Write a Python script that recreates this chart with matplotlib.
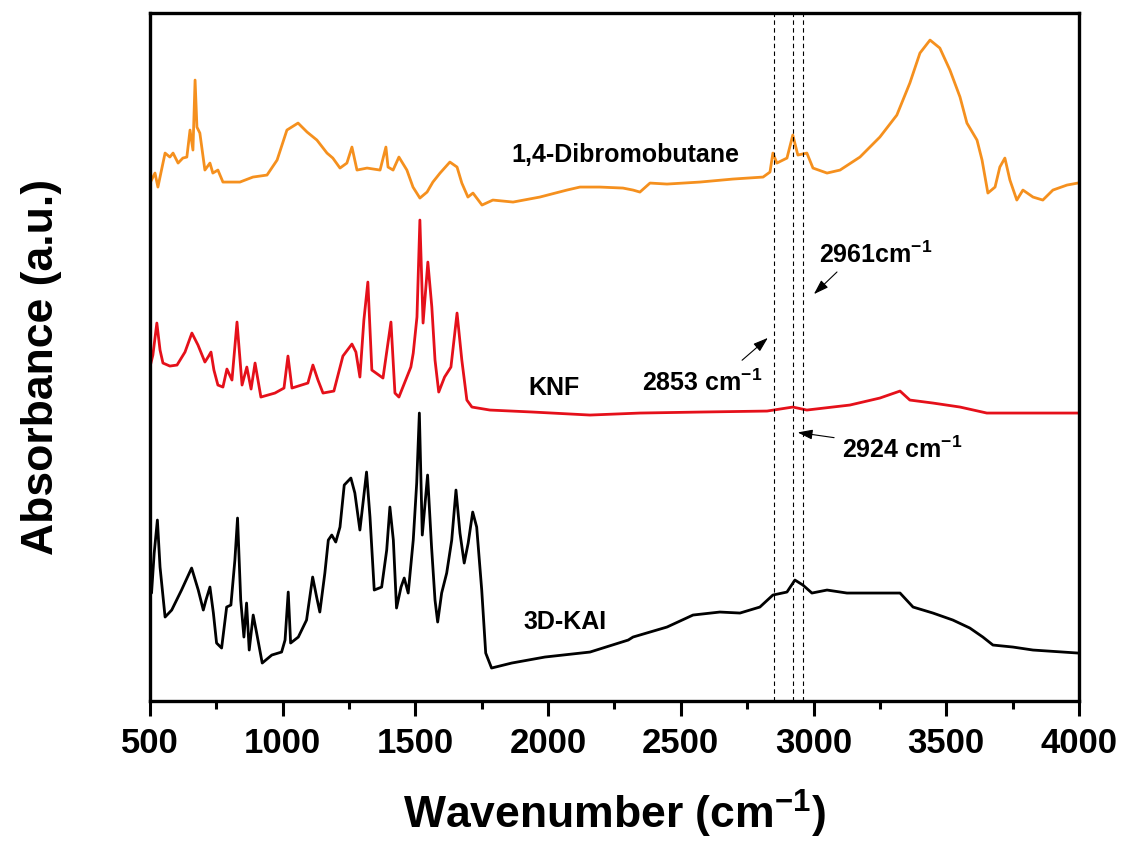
import matplotlib
matplotlib.use("Agg")
import matplotlib.pyplot as plt
from matplotlib.ticker import MultipleLocator

plt.rcParams["font.family"] = ["Liberation Sans", "DejaVu Sans"]
plt.rcParams["font.weight"] = "bold"
plt.rcParams["axes.labelweight"] = "bold"
plt.rcParams["mathtext.fontset"] = "custom"
plt.rcParams["mathtext.rm"] = "Liberation Sans:bold"
plt.rcParams["mathtext.it"] = "Liberation Sans:bold"
plt.rcParams["mathtext.bf"] = "Liberation Sans:bold"
plt.rcParams["mathtext.default"] = "bf"

# 1,4-Dibromobutane (offset spectrum, arbitrary units)
dbb_wn = [500, 519, 530, 557, 575, 587, 606, 624, 639, 651, 662, 670, 677, 688, 707,
          726, 737, 756, 775, 839, 888, 941, 979, 1016, 1058, 1092, 1129, 1167, 1189,
          1216, 1242, 1261, 1280, 1318, 1367, 1389, 1397, 1416, 1438, 1468, 1491, 1517,
          1544, 1566, 1593, 1630, 1657, 1675, 1698, 1717, 1751, 1792, 1868, 1969, 2071,
          2120, 2195, 2282, 2320, 2346, 2384, 2448, 2572, 2696, 2810, 2836, 2847, 2862,
          2900, 2922, 2941, 2975, 2998, 3051, 3100, 3175, 3250, 3314, 3363, 3401, 3439,
          3476, 3514, 3552, 3578, 3616, 3635, 3657, 3684, 3702, 3721, 3740, 3766, 3789,
          3827, 3864, 3902, 3955, 3996]
dbb_abs = [518, 528, 514, 548, 544, 548, 538, 543, 544, 571, 551, 621, 574, 568, 531,
           538, 528, 531, 519, 519, 524, 526, 541, 571, 578, 569, 561, 548, 543,
           533, 538, 554, 531, 533, 531, 554, 534, 531, 544, 531, 514, 503,
           509, 519, 528, 539, 534, 518, 504, 508, 496, 501, 499, 504, 511,
           514, 514, 513, 511, 509, 518, 517, 519, 522, 524, 529, 548, 538,
           543, 566, 546, 548, 533, 528, 531, 544, 564, 586, 618, 648, 661,
           653, 631, 604, 578, 561, 541, 508, 514, 534, 543, 521, 501, 511,
           504, 501, 511, 516, 518]

# KNF
knf_wn = [500, 511, 526, 538, 549, 575, 602, 632, 658, 681, 707, 719, 730, 741, 756,
          775, 790, 809, 828, 847, 865, 881, 896, 918, 971, 1005, 1020, 1035, 1095,
          1114, 1133, 1152, 1193, 1227, 1261, 1276, 1291, 1306, 1321, 1336, 1378, 1408,
          1423, 1438, 1483, 1492, 1506, 1517, 1529, 1547, 1562, 1574, 1588, 1610, 1634,
          1657, 1675, 1694, 1713, 1781, 1943, 2158, 2346, 2572, 2825, 2922, 2975, 3137,
          3250, 3326, 3363, 3450, 3552, 3653, 3827, 4000]
knf_abs = [334, 346, 378, 351, 338, 335, 336, 349, 368, 356, 339, 344, 349, 331, 316,
           314, 332, 321, 379, 316, 334, 312, 338, 304, 308, 313, 345, 313, 318,
           336, 321, 308, 310, 345, 357, 349, 324, 381, 419, 331, 323, 379,
           308, 304, 334, 348, 384, 481, 378, 439, 394, 341, 309, 324, 334,
           388, 341, 301, 294, 291, 289, 286, 288, 289, 290, 294, 291, 296,
           303, 310, 301, 298, 294, 288, 288, 288]

# 3D-KAI
kai_wn = [500, 506, 516, 528, 538, 557, 582, 619, 657, 682, 701, 711, 726, 739, 751,
          770, 789, 805, 820, 830, 842, 854, 864, 874, 889, 902, 923, 959, 996, 1009,
          1021, 1030, 1059, 1090, 1113, 1128, 1140, 1159, 1172, 1185, 1200, 1216, 1232,
          1257, 1272, 1291, 1304, 1316, 1329, 1345, 1373, 1392, 1404, 1417, 1429, 1446,
          1458, 1473, 1492, 1505, 1515, 1526, 1546, 1561, 1574, 1584, 1599, 1618, 1637,
          1653, 1668, 1684, 1699, 1716, 1731, 1750, 1765, 1787, 1863, 1988, 2158, 2302,
          2320, 2448, 2546, 2647, 2723, 2798, 2847, 2900, 2930, 2960, 2994, 3051, 3126,
          3326, 3375, 3450, 3525, 3589, 3638, 3676, 3751, 3827, 3996]
kai_abs = [110, 108, 148, 181, 134, 84, 91, 111, 133, 111, 91, 101, 114, 88, 58,
           53, 94, 96, 141, 183, 101, 64, 98, 51, 86, 68, 38, 46, 49, 61,
           109, 58, 64, 81, 124, 104, 89, 128, 161, 166, 159, 174, 216,
           223, 208, 171, 201, 229, 184, 111, 114, 151, 194, 161, 93, 114,
           123, 108, 161, 218, 288, 166, 226, 154, 101, 79, 108, 128, 161,
           211, 168, 138, 158, 189, 174, 111, 48, 33, 38, 44, 49, 61,
           64, 74, 86, 89, 88, 94, 106, 109, 121, 116, 108, 111, 108,
           108, 94, 88, 81, 73, 64, 56, 54, 51, 48]

marked_peaks = [2853, 2924, 2961]

fig = plt.figure(figsize=(11.3, 8.43), dpi=100)
ax = fig.add_axes([0.1327, 0.1684, 0.8221, 0.8161])

ax.plot(dbb_wn, dbb_abs, color="#F5901E", lw=2.0)
ax.plot(knf_wn, knf_abs, color="#E5101A", lw=2.0)
ax.plot(kai_wn, kai_abs, color="black", lw=2.0)

for wn in marked_peaks:
    ax.axvline(wn, color="black", lw=0.8, ls=(0, (4, 3)))

ax.text(2293, 546, "1,4-Dibromobutane", fontsize=18, ha="center", va="center")
ax.text(2022, 313, "KNF", fontsize=18, ha="center", va="center")
ax.text(2063, 79, "3D-KAI", fontsize=18, ha="center", va="center")

arrow = dict(arrowstyle="-|>,head_length=0.9,head_width=0.3", color="black", lw=0.8)
ax.annotate("2853 cm$^{-1}$", xy=(2836, 365), xytext=(2806, 318), fontsize=18,
            ha="right", va="center")
ax.annotate("", xy=(2836, 365), xytext=(2723, 339), arrowprops=arrow)
ax.annotate("2961cm$^{-1}$", xy=(2994, 405), xytext=(3020, 446), fontsize=18,
            ha="left", va="center")
ax.annotate("", xy=(2994, 405), xytext=(3096, 431), arrowprops=arrow)
ax.annotate("2924 cm$^{-1}$", xy=(2930, 269), xytext=(3107, 251), fontsize=18,
            ha="left", va="center")
ax.annotate("", xy=(2930, 269), xytext=(3088, 263), arrowprops=arrow)

ax.set_xlim(500, 4000)
ax.set_ylim(0, 688)
ax.xaxis.set_major_locator(MultipleLocator(500))
ax.xaxis.set_minor_locator(MultipleLocator(250))
ax.tick_params(axis="x", which="major", direction="out", length=11, width=2.2,
               labelsize=25, pad=8)
ax.tick_params(axis="x", which="minor", direction="out", length=6, width=2.2)
ax.set_yticks([])
for sp in ax.spines.values():
    sp.set_linewidth(2.4)

ax.set_xlabel("Wavenumber (cm$^{-1}$)", fontsize=32, fontweight="bold", labelpad=20)
ax.set_ylabel("Absorbance (a.u.)", fontsize=32, fontweight="bold")
ax.yaxis.set_label_coords(-0.095, 0.485)

fig.savefig("out.png", dpi=100)
